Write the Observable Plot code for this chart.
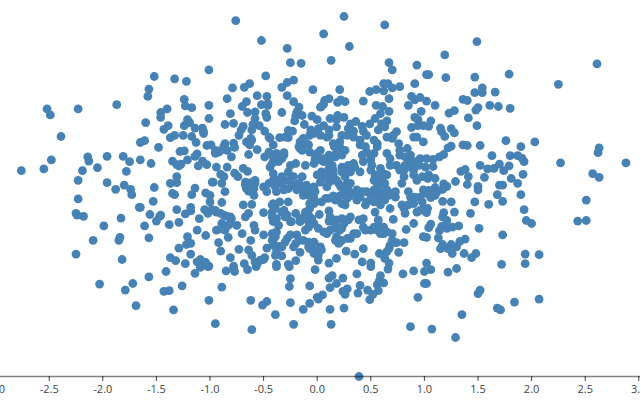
<!DOCTYPE html>
<html><head><meta charset="utf-8">
<script src="https://cdn.jsdelivr.net/npm/d3@7"></script>
<script src="https://cdn.jsdelivr.net/npm/@observablehq/plot@0.6"></script>
<style>html,body{margin:0;padding:0;background:#fff;overflow:hidden}svg{display:block;overflow:hidden}</style>
</head><body><div id="chart"></div>
<script>
const xTicks = [-3,-2.5,-2,-1.5,-1,-0.5,0,0.5,1,1.5,2,2.5,3];
const upperLeft = [[-1.52,2.00],[-1.33,1.96],[-1.22,1.92],[-1.01,2.11],[-1.57,1.79],[-1.58,1.67],[-1.24,1.62],[-1.23,1.51],[-1.17,1.48],[-1.01,1.52],[-1.87,1.53],[-2.23,1.46],[-2.52,1.46],[-2.49,1.36],[-1.40,1.46],[-1.46,1.40],[-1.46,1.32],[-1.01,1.30],[-1.21,1.28],[-1.19,1.23],[-1.24,1.18],[-1.60,1.23],[-1.39,1.18],[-1.43,1.12],[-1.14,1.14],[-1.07,1.14],[-1.06,1.08],[-1.33,1.02],[-1.25,1.02],[-2.39,1.00]];
const midLeft = [[-1.65,.90],[-1.61,.93],[-1.48,.82],[-1.37,.98],[-1.17,1.00],[-1.13,.90],[-1.06,1.05],[-1.03,.85],[-.99,.86],[-1.28,.75],[-1.24,.76],[-1.12,.71],[-1.14,.67],[-1.21,.61],[-1.35,.59],[-1.31,.53],[-1.27,.54],[-1.29,.51],[-1.07,.59],[-1.03,.53],[-1.11,.51],[-1.55,.55],[-1.65,.61],[-1.75,.58],[-1.81,.67],[-1.96,.67],[-2.14,.66],[-2.13,.59],[-2.05,.48],[-2.19,.43],[-1.78,.42],[-2.23,.27],[-1.96,.23],[-1.80,.19],[-1.88,.12],[-1.74,.12],[-1.73,.03],[-2.48,.61],[-2.55,.46],[-2.76,.43],[-1.31,.33],[-1.31,.23],[-1.37,.22],[-1.52,.15],[-.98,.24],[-1.14,.14],[-1.17,.03],[-1.04,.06],[-1.00,.02],[-1.00,-.09],[-1.35,.05],[-1.33,.03],[-1.53,-.08],[-2.23,-.04],[-2.25,-.28],[-2.24,-.31],[-2.18,-.33],[-1.66,-.18],[-1.65,-.18],[-1.31,-.22],[-1.18,-.18],[-1.18,-.24],[-1.23,-.29],[-1.05,-.22],[-1.00,-.24],[-1.02,-.28],[-.98,-.22],[-1.56,-.30],[-1.46,-.31],[-1.47,-.33],[-1.50,-.41],[-1.83,-.36],[-1.99,-.49],[-1.61,-.49],[-1.38,-.47],[-1.29,-.43],[-1.10,-.37],[-1.12,-.56],[-1.04,-.65],[-1.21,-.67],[-1.57,-.69],[-1.84,-.68],[-1.85,-.73],[-2.09,-.73],[-1.18,-.78],[-1.22,-.80],[-1.29,-.86],[-1.18,-.96],[-2.25,-.96],[-1.82,-1.05],[-1.37,-1.02],[-1.32,-1.07],[-1.23,-1.12],[-1.09,-1.05],[-1.12,-1.09],[-1.04,-1.10],[-1.07,-1.09],[-1.01,-1.16]];
const lowerLeft = [[-2.03,-1.46],[-1.79,-1.56],[-1.72,-1.45],[-1.69,-1.82],[-1.57,-1.34],[-1.41,-1.25],[-1.43,-1.58],[-1.38,-1.57],[-1.26,-1.49],[-1.34,-1.89],[-1.14,-1.28],[-1.09,-1.18],[-1.02,-1.17],[-1.01,-1.73],[-.95,-2.12]];
const upperMiddle = [[-.76,2.93],[.25,3.00],[.63,2.86],[.06,2.71],[-.52,2.60],[.30,2.50],[-.28,2.47],[-.25,2.23],[-.15,2.22],[.13,2.27],[.67,2.23],[.70,2.11],[.93,2.19],[1.02,2.03],[-.48,2.01],[-.63,1.88],[-.68,1.82],[-.79,1.81],[-.84,1.63],[-.22,1.94],[-.28,1.90],[-.33,1.82],[-.28,1.68],[-.04,1.78],[.21,1.78],[.49,1.75],[.55,1.78],[.62,1.76],[.62,1.88],[.66,1.88],[.70,1.81],[.77,1.83],[.91,1.88],[-.56,1.68],[-.47,1.67],[-.66,1.58],[-.70,1.50],[-.52,1.53],[-.46,1.55],[-.46,1.52],[-.22,1.58],[.11,1.63],[.07,1.60],[.04,1.50],[.06,1.54],[.03,1.49],[.19,1.57],[.22,1.61],[.26,1.58],[.43,1.59],[.67,1.63],[.55,1.52],[.61,1.50],[.67,1.42],[.85,1.52],[.88,1.67],[.91,1.61],[.96,1.65],[1.02,1.59],[.97,1.42],[-.81,1.38],[-.65,1.40],[-.58,1.41],[-.48,1.38],[-.47,1.32],[-.33,1.40],[-.17,1.49],[-.19,1.41],[-.20,1.35],[-.14,1.35],[-.21,1.26],[-.05,1.34],[0,1.28],[-.12,1.20],[.12,1.30],[.19,1.35],[.25,1.32],[.18,1.28],[.59,1.38],[.54,1.30],[.65,1.26],[.91,1.32],[.94,1.28],[-.58,1.30],[-.86,1.20],[-.78,1.22],[-.60,1.20],[-.54,1.18],[-.69,1.17],[-.71,1.11],[-.61,1.11],[-.49,1.09],[-.27,1.10],[-.23,1.09],[-.06,1.11],[.06,1.18],[.01,1.13],[.11,1.11],[.18,1.16],[.31,1.21],[.36,1.25],[.29,1.13],[.42,1.17],[.49,1.21],[.60,1.21],[.63,1.16],[.57,1.11],[.74,1.08],[.88,1.15],[.99,1.18],[.94,1.18],[.34,1.09],[.43,1.09]];
const upperRight = [[1.49,2.58],[1.19,2.36],[2.61,2.21],[1.79,2.04],[1.04,2.03],[1.20,1.98],[1.47,1.99],[2.25,1.87],[1.54,1.81],[1.47,1.73],[1.54,1.73],[1.66,1.74],[1.36,1.62],[1.40,1.60],[1.10,1.52],[1.61,1.52],[1.69,1.50],[1.80,1.47],[1.50,1.48],[1.48,1.44],[1.28,1.43],[1.23,1.39],[1.41,1.31],[1.06,1.26],[1.04,1.17],[1.49,1.18],[1.15,1.14],[1.25,1.13],[1.16,1.08],[1.28,1.06]];
const midRight = [[1.19,1.00],[1.76,.93],[2.03,.91],[1.36,.86],[1.40,.85],[1.52,.85],[1.90,.83],[1.25,.84],[1.22,.81],[2.63,.81],[2.62,.73],[1.63,.68],[1.80,.68],[1.87,.68],[1.91,.64],[1.93,.58],[1.18,.70],[1.14,.66],[1.08,.62],[1.02,.63],[2.27,.56],[2.88,.56],[1.52,.52],[1.08,.50],[1.70,.54],[1.79,.51],[1.59,.46],[1.65,.47],[1.74,.43],[1.38,.45],[1.34,.42],[1.92,.37],[2.57,.38],[2.63,.32],[1.41,.33],[1.56,.32],[1.04,.36],[1.03,.30],[1.10,.30],[1.81,.30],[1.29,.25],[1.40,.20],[1.87,.22],[1.70,.19],[1.73,.19],[1.50,.17],[1.50,.11],[1.18,.21],[1.21,.17],[1.10,.15],[1.17,.12],[1.12,.08],[1.04,.10],[1.02,.05],[1.06,-.02],[1.10,.02],[1.68,.03],[1.90,.03],[1.17,-.08],[1.25,-.09],[1.47,-.09],[1.60,-.13],[1.73,-.08],[2.51,-.06],[1.93,-.22],[1.03,-.20],[1.28,-.26],[1.43,-.28],[1.02,-.27],[1.18,-.27],[1.17,-.34],[1.21,-.40],[1.95,-.40],[2.00,-.45],[2.43,-.41],[2.51,-.40],[1.06,-.46],[1.04,-.52],[1.32,-.49],[1.26,-.51],[1.21,-.53],[1.16,-.50],[1.14,-.57],[1.51,-.53],[1.73,-.64],[1.13,-.69],[1.02,-.68],[1.38,-.71],[1.33,-.75],[1.30,-.84],[1.25,-.80],[1.17,-.80],[1.15,-.87],[1.22,-.87],[1.26,-.95],[1.37,-.95],[1.48,-.95],[1.44,-1.02],[1.94,-.96],[2.07,-.97],[1.72,-1.13],[1.94,-1.12],[1.02,-1.11]];
const lowerRight = [[1.06,-1.22],[1.22,-1.26],[1.30,-1.20],[1.02,-1.45],[1.52,-1.56],[1.50,-1.62],[1.84,-1.76],[2.07,-1.71],[1.68,-1.86],[1.71,-1.89],[1.35,-1.97],[1.07,-2.21],[1.29,-2.35]];
const lowerMiddle = [[-.85,-1.24],[-.77,-1.25],[-.78,-1.20],[-.65,-1.22],[-.89,-1.51],[-.62,-1.73],[-.47,-1.75],[-.51,-1.81],[-.39,-1.97],[-.61,-2.22],[-.25,-1.37],[-.26,-1.50],[-.07,-1.49],[-.25,-1.77],[-.07,-1.78],[-.13,-1.88],[-.22,-2.13],[-.02,-1.22],[.11,-1.36],[.14,-1.32],[.24,-1.36],[.18,-1.45],[.12,-1.52],[.05,-1.64],[0,-1.68],[.01,-1.71],[.12,-1.88],[.25,-1.86],[.13,-2.13],[.24,-1.58],[.28,-1.54],[.26,-1.63],[.38,-1.61],[.40,-1.48],[.37,-1.29],[.47,-1.56],[.49,-1.72],[.52,-1.63],[.57,-1.57],[.56,-1.47],[.58,-1.40],[.59,-1.32],[.62,-1.44],[.66,-1.21],[.80,-1.29],[.90,-1.24],[1.00,-1.25],[1.00,-1.45],[.94,-1.68],[.87,-2.17],[.39,-3.00],[.50,-1.17],[-.26,-1.17],[-.38,-1.17],[-.57,-1.17]];
const center = [[-.92,.74],[-.87,.84],[-.84,.77],[-.78,.89],[-.77,.82],[-.80,.66],[-.95,.72],[-.66,.91],[-.61,.94],[-.63,.86],[-.56,.78],[-.64,.70],[-.49,.66],[-.44,.97],[-.41,.86],[-.45,.74],[-.38,.72],[-.31,.73],[-.33,.63],[-.41,.58],[-.44,.49],[-.35,.98],[-.27,.98],[-.14,.94],[-.08,.86],[-.16,.80],[-.07,.74],[.03,.77],[-.02,.63],[.06,.58],[.11,.69],[.16,.83],[.21,.91],[.23,.74],[.17,.66],[-.03,1.05],[.09,.99],[.28,1.02],[.40,.94],[.45,.83],[.56,.88],[.53,.72],[.43,.58],[.34,.55],[.28,.49],[.40,.41],[.51,.52],[.59,.47],[.57,.33],[.59,.22],[.70,.97],[.76,.88],[.65,.72],[.68,.63],[.84,.80],[.77,.69],[.93,.99],[.99,.91],[.87,.61],[.96,.63],[.81,.44],[.90,.44],[1.01,.49],[.74,.52],[.65,.36],[.79,.22],[.93,.27],[.98,.33],[.85,.08],[.99,.11],[.91,-.01],[.98,-.09],[-.94,.49],[-.84,.49],[-.90,.37],[-.87,.33],[-.77,.39],[-.74,.33],[-.69,.47],[-.65,.42],[-.97,.24],[-.89,.22],[-.86,.08],[-.58,.27],[-.62,.23],[-.67,.19],[-.64,.09],[-.59,.02],[-.61,-.13],[-.69,-.14],[-.89,-.10],[-.50,.16],[-.41,.38],[-.38,.27],[-.33,.22],[-.25,.52],[-.20,.55],[-.27,.41],[-.22,.33],[-.14,.33],[-.11,.52],[-.17,.22],[-.11,.11],[-.31,.11],[-.38,.08],[-.47,.08],[0,.36],[.04,.41],[.11,.47],[.15,.36],[.03,.24],[.09,.16],[-.02,.08],[.22,.16],[.18,.27],[.26,.33],[.31,.22],[.25,.08],[.35,.05],[.40,-.01],[.46,.08],[.53,.11],[.57,.02],[.62,.08],[.70,.05],[.73,-.01],[.63,-.06],[.68,-.20],[.54,-.26],[.46,-.09],[.37,-.06],[.26,-.14],[.17,-.06],[.11,-.03],[.04,-.09],[-.03,-.12],[-.07,-.20],[-.11,-.31],[-.08,-.42],[-.16,-.37],[-.20,-.28],[-.27,-.09],[-.33,-.26],[-.41,-.12],[-.42,-.26],[-.38,-.37],[-.30,-.34],[-.25,-.42],[-.50,-.27],[-.64,-.28],[-.67,-.34],[-.59,-.48],[-.58,-.56],[-.94,-.26],[-.87,-.31],[-.81,-.34],[-.89,-.45],[-.81,-.45],[-.75,-.48],[-.90,-.54],[-.86,-.56],[-.70,-.62],[-.50,-.64],[-.42,-.62],[-.38,-.59],[-.62,-.73],[-.92,-.77],[-.83,-.68],[-.90,-.91],[-.73,-.88],[-.64,-.89],[-.61,-.98],[-.81,-1.02],[-.47,-.86],[-.41,-.73],[-.36,-.83],[-.28,-.70],[-.22,-.84],[-.16,-.93],[-.19,-.64],[-.13,-.73],[-.08,-.84],[-.03,-.76],[.03,-.84],[-.03,-.95],[.01,-1.06],[-.33,-.99],[-.39,-.98],[-.49,-1.02],[-.53,-1.06],[-.56,-1.12],[-.68,-1.12],[-.78,-1.16],[-.38,-1.13],[-.20,-1.07],[-.27,-1.13],[.11,-1.11],[.18,-1.03],[.27,-.91],[.35,-.96],[.43,-.87],[.42,-1.09],[.50,-1.11],[.63,-1.03],[.67,-1.11],[.58,-.95],[.76,-.93],[.68,-.81],[.74,-.77],[.81,-.77],[.99,-.67],[.83,-.55],[.90,-.45],[.71,-.38],[.56,-.56],[.62,-.62],[.70,-.62],[.57,-.39],[.45,-.56],[.37,-.62],[.31,-.70],[.23,-.73],[.18,-.67],[.20,-.78],[.39,-.39],[.43,-.37],[.29,-.39],[.23,-.37],[.15,-.42],[.11,-.41],[.18,-.53],[.23,-.53],[.11,-.24],[.02,-.30],[.01,-.53],[.06,-.59],[.82,-.28],[.79,-.14],[.85,-.14],[.93,-.26],[.99,-.20]];
const centerDense = [[-.73,1.02],[-.62,.97],[-.45,.99],[-.30,.99],[-.07,1.02],[.03,1.02],[.11,1.02],[.23,1.02],[.34,.99],[.46,1.02],[.65,.99],[.71,1.02],[.90,.99],[-.42,.69],[-.36,.63],[-.31,.69],[-.36,.58],[-.42,.55],[-.16,.91],[-.13,.97],[-.10,.88],[-.17,.83],[-.14,.77],[0,.72],[.03,.61],[.06,.63],[-.03,.55],[.11,.58],[.14,.52],[.15,.88],[.21,.83],[.18,.74],[.26,.77],[.23,.69],[.40,.86],[.46,.74],[.42,.69],[.50,.66],[.56,.83],[.53,.94],[.50,.61],[.23,.49],[.29,.52],[.35,.49],[.31,.41],[.23,.41],[.50,.44],[.54,.36],[.62,.38],[.53,.27],[.60,.30],[.56,.22],[.63,.22],[.68,.52],[.77,.77],[.82,.66],[.87,.69],[.91,.58],[.87,.49],[.95,.52],[.82,.52],[.77,.44],[.90,.36],[.81,.33],[-.67,.24],[-.62,.16],[-.58,.22],[-.66,.13],[-.59,.13],[-.45,.22],[-.41,.27],[-.39,.16],[-.33,.33],[-.27,.27],[-.22,.19],[-.19,.11],[-.14,.13],[-.10,.19],[-.07,.13],[-.27,.13],[-.13,.02],[-.08,.02],[-.03,.16],[-.42,-.14],[-.39,-.20],[-.42,-.34],[-.41,-.42],[-.36,-.48],[-.31,-.23],[-.28,-.31],[-.24,-.42],[-.35,-.09],[-.03,-.03],[-.07,-.12],[-.11,-.26],[-.08,-.31],[-.05,-.37],[-.13,-.37],[-.08,-.51],[-.16,-.42],[-.03,-.45],[-.11,-.56],[.03,.38],[.11,.38],[.15,.44],[.08,.33],[.14,.27],[.11,.24],[.20,.22],[.28,.22],[.29,.11],[.32,.02],[.28,-.03],[.21,.01],[.23,-.12],[.15,.01],[.08,-.03],[.42,.08],[.37,.11],[.50,.02],[.53,-.09],[.45,-.14],[.59,-.03],[.59,-.14],[.67,.02],[.65,.11],[.73,.08],[.57,.11],[.81,-.20],[.90,-.12],[.96,-.01],[1.02,.08],[.87,-.01],[.96,-.23],[.12,-.34],[.18,-.39],[.26,-.39],[.31,-.34],[.17,-.48],[.25,-.45],[.21,-.56],[.12,-.56],[.09,-.62],[.50,-.56],[.59,-.62],[.65,-.59],[.53,-.51],[.57,-.48],[.62,-.51],[.43,-.51],[.34,-.62],[.28,-.70],[.21,-.76],[.17,-.73],[-.07,-.87],[0,-.89],[.04,-.89],[-.03,-.87],[.01,-.98],[-.08,-.76],[-.02,-.81],[-.17,-.73],[-.20,-.78],[-.95,-.23],[-.90,-.28],[-.84,-.33],[-.80,-.37],[-.94,-.56],[-.89,-.53],[-.83,-.48],[-.39,-.67],[-.41,-.81],[-.38,-.89],[-.33,-.84],[-.42,-.73],[-.25,-.64],[-.30,-.76],[-.50,-1.05],[-.58,-1.09],[.67,-.87],[.70,-.73],[.65,-.92],[-.95,.77],[-.90,.77],[-.86,.88]];
const points = [...upperLeft,...midLeft,...lowerLeft,...upperMiddle,...upperRight,...midRight,...lowerRight,...lowerMiddle,...center,...centerDense];
const chart = Plot.plot({
  width:640,height:400,marginTop:16,marginBottom:24,marginLeft:0,marginRight:0,
  style:{fontFamily:"'Open Sans',sans-serif",fontSize:"11px",background:"#fff"},
  x:{domain:[-3,3],range:[-4.9,638.3]},
  y:{domain:[-3,3],range:[376,16],axis:null},
  marks:[
    Plot.axisX({ticks:xTicks,tickFormat:d=>d.toFixed(1),tickSize:5,tickPadding:4,label:null,stroke:"#444",color:"#444"}),
    Plot.dot(points,{x:d=>d[0],y:d=>d[1],r:4.4,fill:"steelblue"}),
    Plot.ruleY([-3],{stroke:"#000",strokeOpacity:0.5,strokeWidth:1.5})
  ]
});
document.getElementById("chart").append(chart);
</script>
</body></html>
